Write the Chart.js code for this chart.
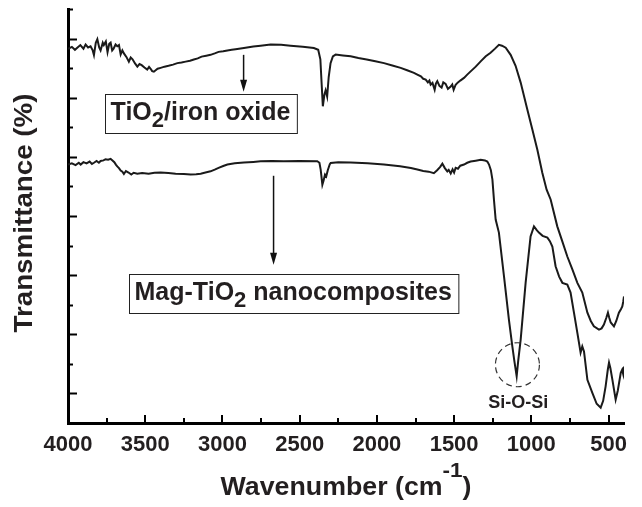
<!DOCTYPE html>
<html>
<head>
    <title>FTIR spectra</title>
    <script src="https://cdn.jsdelivr.net/npm/chart.js"></script>
    <style>
        body { margin: 0; background: #fff; }
    </style>
</head>
<body>
    <canvas id="ftirChart" width="642" height="507"></canvas>

    <script>
        // TiO2/iron oxide spectrum (wavenumber, transmittance in arbitrary offset units)
        const ironWn = [
            4000, 3975, 3955, 3940, 3920, 3900, 3886, 3870, 3854, 3840,
            3832, 3820, 3810, 3798, 3789, 3775, 3768, 3755, 3744, 3733,
            3724, 3714, 3705, 3692, 3681, 3670, 3659, 3648, 3638, 3622,
            3606, 3594, 3582, 3566, 3551, 3537, 3523, 3505, 3487, 3475,
            3465, 3455, 3444, 3420, 3400, 3375, 3349, 3320, 3292, 3265,
            3238, 3210, 3185, 3160, 3135, 3105, 3077, 3050, 3025, 2995,
            2968, 2940, 2915, 2861, 2800, 2753, 2688, 2620, 2559, 2480,
            2408, 2380, 2366, 2358, 2350, 2340, 2332, 2322, 2312, 2300,
            2285, 2267, 2220, 2170, 2120, 2066, 2010, 1954, 1900, 1846,
            1800, 1760, 1738, 1715, 1700, 1684, 1670, 1660, 1652, 1640,
            1626, 1618, 1609, 1595, 1581, 1570, 1555, 1540, 1522, 1512,
            1503, 1490, 1477, 1460, 1436, 1415, 1393, 1360, 1328, 1295,
            1264, 1235, 1210, 1190, 1166, 1134, 1102, 1069, 1026, 993,
            961, 929, 901, 875, 832, 800, 767, 735, 702, 670,
            637, 615, 595, 562, 545, 530, 515, 504, 495, 486,
            465, 450, 433, 420, 411, 405, 400
        ];
        const ironT = [
            12.65, 12.72, 12.62, 12.69, 12.78, 12.66, 12.80, 12.70, 12.74, 12.60,
            12.44, 12.86, 12.98, 12.70, 12.60, 12.86, 12.78, 12.90, 12.54, 12.82,
            12.86, 12.60, 12.66, 12.80, 12.74, 12.78, 12.46, 12.60, 12.50, 12.38,
            12.22, 12.36, 12.30, 12.16, 12.05, 12.14, 12.10, 12.02, 11.95, 12.04,
            11.98, 11.90, 11.88, 11.98, 12.01, 12.05, 12.08, 12.12, 12.17, 12.19,
            12.22, 12.25, 12.29, 12.33, 12.39, 12.42, 12.45, 12.50, 12.55, 12.57,
            12.60, 12.62, 12.64, 12.68, 12.73, 12.76, 12.80, 12.79, 12.76, 12.72,
            12.68, 12.62, 12.30, 11.50, 10.71, 11.10, 11.25, 11.04, 11.70, 12.17,
            12.40, 12.46, 12.43, 12.40, 12.34, 12.29, 12.23, 12.17, 12.09, 12.01,
            11.92, 11.84, 11.78, 11.72, 11.64, 11.61, 11.52, 11.58, 11.44, 11.50,
            11.27, 11.48, 11.56, 11.40, 11.34, 11.52, 11.47, 11.30, 11.38, 11.45,
            11.27, 11.44, 11.51, 11.58, 11.67, 11.78, 11.89, 12.05, 12.23, 12.40,
            12.52, 12.66, 12.79, 12.76, 12.69, 12.45, 12.08, 11.51, 10.60, 9.92,
            9.24, 8.46, 7.89, 7.56, 6.65, 6.15, 5.63, 5.20, 4.74, 4.41,
            3.73, 3.45, 3.27, 3.16, 3.20, 3.33, 3.55, 3.73, 3.55, 3.40,
            3.27, 3.45, 3.73, 3.85, 3.94, 4.10, 4.28
        ];

        // Mag-TiO2 nanocomposites spectrum
        const magWn = [
            4000, 3975, 3951, 3930, 3918, 3900, 3880, 3860, 3845, 3832,
            3815, 3800, 3789, 3770, 3757, 3740, 3724, 3712, 3700, 3690,
            3681, 3670, 3659, 3648, 3638, 3625, 3608, 3590, 3575, 3551,
            3520, 3478, 3440, 3400, 3350, 3303, 3250, 3206, 3170, 3141,
            3110, 3077, 3050, 3025, 2995, 2968, 2920, 2861, 2800, 2753,
            2680, 2602, 2500, 2386, 2372, 2364, 2353, 2345, 2336, 2328,
            2318, 2305, 2299, 2250, 2170, 2060, 1954, 1850, 1780, 1738,
            1700, 1665, 1631, 1610, 1590, 1576, 1560, 1544, 1535, 1522,
            1510, 1500, 1490, 1475, 1460, 1436, 1415, 1393, 1360, 1328,
            1300, 1285, 1274, 1262, 1252, 1242, 1231, 1210, 1177, 1145,
            1123, 1110, 1095, 1085, 1069, 1037, 1005, 983, 965, 951,
            927, 896, 880, 864, 843, 820, 799, 767, 746, 724,
            702, 681, 670, 659, 637, 605, 577, 551, 535, 519,
            505, 497, 488, 475, 454, 440, 421, 412, 405, 400
        ];
        const magT = [
            8.74, 8.78, 8.72, 8.80, 8.74, 8.82, 8.78, 8.84, 8.76, 8.80,
            8.86, 8.80, 8.86, 8.88, 8.92, 8.90, 8.93, 8.88, 8.82, 8.74,
            8.68, 8.62, 8.54, 8.50, 8.42, 8.52, 8.47, 8.40, 8.46, 8.43,
            8.45, 8.43, 8.46, 8.47, 8.45, 8.43, 8.42, 8.40, 8.41, 8.43,
            8.47, 8.51, 8.57, 8.63, 8.69, 8.74, 8.78, 8.81, 8.83, 8.85,
            8.86, 8.85, 8.86, 8.85, 8.80, 8.57, 8.06, 8.20, 8.40, 8.34,
            8.55, 8.75, 8.79, 8.82, 8.81, 8.78, 8.74, 8.68, 8.62, 8.57,
            8.52, 8.50, 8.45, 8.55, 8.66, 8.77, 8.62, 8.51, 8.56, 8.44,
            8.58, 8.47, 8.63, 8.60, 8.70, 8.74, 8.80, 8.84, 8.87, 8.90,
            8.88, 8.84, 8.74, 8.55, 8.23, 7.55, 6.88, 6.44, 4.96, 3.49,
            2.59, 2.10, 1.58, 2.10, 2.82, 4.74, 6.31, 6.65, 6.52, 6.44,
            6.33, 6.27, 6.15, 5.97, 5.30, 4.95, 4.74, 4.68, 4.41, 3.73,
            3.05, 2.38, 2.59, 2.42, 1.46, 1.02, 0.65, 0.52, 0.75, 1.24,
            1.80, 2.04, 1.85, 1.46, 0.79, 1.10, 1.70, 1.80, 1.65, 1.91
        ];

        // axis ticks
        const xMajor = [4000, 3500, 3000, 2500, 2000, 1500, 1000, 500];
        const xMinor = [3750, 3250, 2750, 2250, 1750, 1250, 750];
        const yMajor = [1, 3, 5, 7, 9, 11, 13];
        const yMinor = [2, 4, 6, 8, 10, 12, 14];

        const ink = "#231f20";
        const fontFamily = '"Liberation Sans", Arial, Helvetica, sans-serif';

        // text pieces: [text, size, vertical shift]
        function richWidth(ctx, runs) {
            let w = 0;
            for (const [t, size] of runs) {
                ctx.font = `bold ${size}px ${fontFamily}`;
                w += ctx.measureText(t).width;
            }
            return w;
        }
        function drawRich(ctx, runs, x, y, sx) {
            ctx.save();
            ctx.translate(x, y);
            ctx.scale(sx, 1);
            ctx.textAlign = "left";
            ctx.textBaseline = "alphabetic";
            let cx = 0;
            for (const [t, size, dy] of runs) {
                ctx.font = `bold ${size}px ${fontFamily}`;
                ctx.fillText(t, cx, dy);
                cx += ctx.measureText(t).width;
            }
            ctx.restore();
        }

        function arrow(ctx, x, y1, y2) {
            ctx.beginPath();
            ctx.moveTo(x, y1);
            ctx.lineTo(x, y2 - 8);
            ctx.stroke();
            ctx.beginPath();
            ctx.moveTo(x - 3.5, y2 - 12);
            ctx.lineTo(x + 3.5, y2 - 12);
            ctx.lineTo(x, y2);
            ctx.closePath();
            ctx.fill();
        }

        function boxLabel(ctx, runs, x, y) {
            const w = richWidth(ctx, runs) + 12;
            ctx.fillStyle = "#fff";
            ctx.fillRect(x, y, w, 39);
            ctx.lineWidth = 1;
            ctx.strokeStyle = "#222";
            ctx.strokeRect(Math.round(x) + 0.5, Math.round(y) + 0.5, w, 39);
            ctx.fillStyle = ink;
            drawRich(ctx, runs, x + 6, y + 26, 1);
        }

        // ticks inside the frame, titles, labels and the Si-O-Si marker
        const decorations = {
            id: "decorations",
            afterDraw(chart) {
                const { ctx, chartArea: area, scales: { x, y } } = chart;
                ctx.save();
                ctx.strokeStyle = "#000";
                ctx.fillStyle = "#000";
                ctx.lineWidth = 2;
                ctx.lineCap = "butt";
                for (const v of xMajor.concat(xMinor)) {
                    const px = Math.round(x.getPixelForValue(v));
                    const len = xMajor.includes(v) ? 8 : 5;
                    ctx.beginPath();
                    ctx.moveTo(px, area.bottom);
                    ctx.lineTo(px, area.bottom - len);
                    ctx.stroke();
                }
                for (const v of yMajor.concat(yMinor)) {
                    const py = Math.round(y.getPixelForValue(v)) + 0.5;
                    const len = yMajor.includes(v) ? 9 : 5;
                    ctx.beginPath();
                    ctx.moveTo(area.left, py);
                    ctx.lineTo(area.left + len, py);
                    ctx.stroke();
                }

                // axis titles
                ctx.fillStyle = ink;
                const xTitle = [["Wavenumber (cm", 25, 0], ["-1", 21, -18], [")", 25, 0]];
                const sxX = 1.07;
                const xw = richWidth(ctx, xTitle) * sxX;
                drawRich(ctx, xTitle, (area.left + area.right) / 2 - xw / 2, 495, sxX);

                const yTitle = [["Transmittance (%)", 25, 0]];
                const sxY = 1.11;
                const yw = richWidth(ctx, yTitle) * sxY;
                ctx.save();
                ctx.translate(32, (area.top + area.bottom) / 2 - 3);
                ctx.rotate(-Math.PI / 2);
                drawRich(ctx, yTitle, -yw / 2, 0, sxY);
                ctx.restore();

                // sample labels with arrows
                ctx.lineWidth = 1.5;
                ctx.strokeStyle = "#111";
                ctx.fillStyle = "#111";
                arrow(ctx, x.getPixelForValue(2863), y.getPixelForValue(12.45), y.getPixelForValue(11.2));
                arrow(ctx, x.getPixelForValue(2669), y.getPixelForValue(8.36), y.getPixelForValue(5.35));

                boxLabel(ctx, [["TiO", 25, 0], ["2", 22, 7], ["/iron oxide", 25, 0]],
                    x.getPixelForValue(3763), y.getPixelForValue(11.14));
                boxLabel(ctx, [["Mag-TiO", 25, 0], ["2", 22, 7], [" nanocomposites", 25, 0]],
                    x.getPixelForValue(3608), y.getPixelForValue(5.05));

                // Si-O-Si band marker
                ctx.setLineDash([6, 4]);
                ctx.lineWidth = 1.2;
                ctx.strokeStyle = "#333";
                ctx.beginPath();
                ctx.arc(x.getPixelForValue(1090), y.getPixelForValue(1.97), 22, 0, Math.PI * 2);
                ctx.stroke();
                ctx.setLineDash([]);
                ctx.fillStyle = ink;
                ctx.font = `bold 18px ${fontFamily}`;
                ctx.textAlign = "center";
                ctx.fillText("Si-O-Si", x.getPixelForValue(1085), y.getPixelForValue(0.52));
                ctx.restore();
            }
        };

        const toPoints = (xs, ys) => xs.map((v, i) => ({ x: v, y: ys[i] }));

        const ctx = document.getElementById("ftirChart").getContext("2d");
        new Chart(ctx, {
            type: "line",
            data: {
                datasets: [
                    {
                        label: "TiO2/iron oxide",
                        data: toPoints(ironWn, ironT),
                        borderColor: "#1a1a1a",
                        borderWidth: 2,
                        pointRadius: 0,
                        tension: 0
                    },
                    {
                        label: "Mag-TiO2 nanocomposites",
                        data: toPoints(magWn, magT),
                        borderColor: "#1a1a1a",
                        borderWidth: 2,
                        pointRadius: 0,
                        tension: 0
                    }
                ]
            },
            options: {
                responsive: false,
                animation: false,
                layout: { padding: { top: 9, right: 18, left: 0, bottom: 0 } },
                plugins: {
                    legend: { display: false },
                    tooltip: { enabled: false }
                },
                scales: {
                    x: {
                        type: "linear",
                        reverse: true,
                        min: 400,
                        max: 4000,
                        afterBuildTicks: scale => {
                            scale.ticks = xMajor.map(v => ({ value: v }));
                        },
                        afterFit: scale => { scale.height = 84; },
                        ticks: {
                            autoSkip: false,
                            maxRotation: 0,
                            padding: 9,
                            color: ink,
                            font: { family: fontFamily, weight: "bold", size: 22 },
                            callback: v => String(v)
                        },
                        grid: { display: false, drawTicks: false },
                        border: { color: "#000", width: 3 }
                    },
                    y: {
                        min: 0,
                        max: 14,
                        afterFit: scale => { scale.width = 68; },
                        ticks: { display: false },
                        grid: { display: false, drawTicks: false },
                        border: { color: "#000", width: 3 }
                    }
                }
            },
            plugins: [decorations]
        });
    </script>
</body>
</html>
